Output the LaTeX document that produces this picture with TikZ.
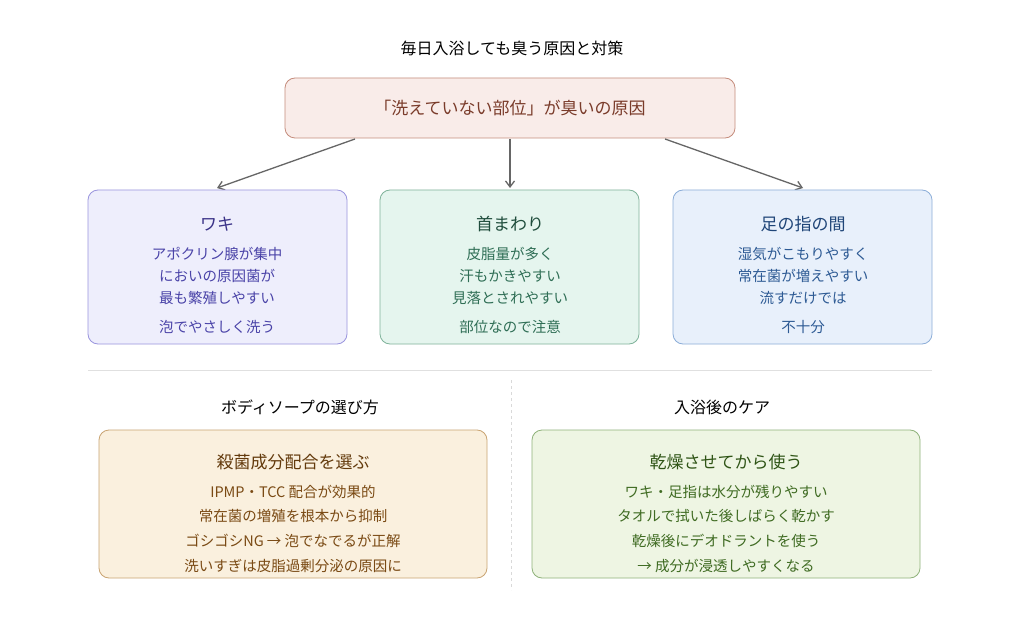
\documentclass[tikz,border=0pt]{standalone}
\usepackage{fontspec}
\setmainfont{Noto Sans CJK JP}
\usetikzlibrary{arrows.meta}
\definecolor{pkF}{HTML}{F9ECE9}\definecolor{pkD}{HTML}{C58C7C}\definecolor{pkT}{HTML}{7A3B2A}
\definecolor{puF}{HTML}{EEEEFC}\definecolor{puD}{HTML}{9A95DE}\definecolor{puT}{HTML}{4A43A8}\definecolor{puH}{HTML}{3C3489}
\definecolor{grF}{HTML}{E5F5EE}\definecolor{grD}{HTML}{7FB39A}\definecolor{grT}{HTML}{2F6E55}\definecolor{grH}{HTML}{1F4D3C}
\definecolor{blF}{HTML}{E8F0FB}\definecolor{blD}{HTML}{8BADD8}\definecolor{blT}{HTML}{2D5A94}\definecolor{blH}{HTML}{1F4578}
\definecolor{orF}{HTML}{FAF0DE}\definecolor{orD}{HTML}{C9A472}\definecolor{orT}{HTML}{7A4A14}\definecolor{orH}{HTML}{633A0C}
\definecolor{lgF}{HTML}{EEF5E3}\definecolor{lgD}{HTML}{8FB27A}\definecolor{lgT}{HTML}{3F6B22}\definecolor{lgH}{HTML}{2F5416}
\begin{document}
\begin{tikzpicture}[x=1pt,y=-1pt,
 box/.style={draw,rounded corners=10pt,line width=0.8pt},
 tx/.style={font=\fontsize{14.5}{16}\selectfont,anchor=center},
 hd/.style={font=\fontsize{17}{19}\selectfont,anchor=center},
 arr/.style={draw=black!60,line width=1.3pt,-{Straight Barb[length=6pt,width=9pt]}}]
\useasboundingbox[fill=white] (0,0) rectangle (1024,620);
\node[hd,font=\fontsize{16}{18}\selectfont] (title) at (512,48) {毎日入浴しても臭う原因と対策};
\draw[box,draw=pkD,fill=pkF] (285,78) rectangle (735,138);
\node[hd,text=pkT] (top) at (510,108) {「洗えていない部位」が臭いの原因};
\coordinate (tl) at (355,139);\coordinate (tm) at (510,139);\coordinate (tr) at (665,139);
\coordinate (al) at (217,188);\coordinate (am) at (510,188);\coordinate (ar) at (803,188);
\draw[arr] (tl)--(al);\draw[arr] (tm)--(am);\draw[arr] (tr)--(ar);
% three boxes
\draw[box,draw=puD,fill=puF] (88,190) rectangle (347,344);
\node[hd,text=puH] (h1) at (217,224) {ワキ};
\node[tx,text=puT] at (217,254) {アポクリン腺が集中};
\node[tx,text=puT] at (217,276) {においの原因菌が};
\node[tx,text=puT] at (217,298) {最も繁殖しやすい};
\node[tx,text=puT] at (217,327) {泡でやさしく洗う};
\draw[box,draw=grD,fill=grF] (380,190) rectangle (639,344);
\node[hd,text=grH] (h2) at (510,224) {首まわり};
\node[tx,text=grT] at (510,254) {皮脂量が多く};
\node[tx,text=grT] at (510,276) {汗もかきやすい};
\node[tx,text=grT] at (510,298) {見落とされやすい};
\node[tx,text=grT] at (510,327) {部位なので注意};
\draw[box,draw=blD,fill=blF] (673,190) rectangle (932,344);
\node[hd,text=blH] (h3) at (803,224) {足の指の間};
\node[tx,text=blT] at (803,254) {湿気がこもりやすく};
\node[tx,text=blT] at (803,276) {常在菌が増えやすい};
\node[tx,text=blT] at (803,298) {流すだけでは};
\node[tx,text=blT] at (803,327) {不十分};
% separators
\draw[black!12,line width=0.8pt] (88,370)--(932,370);
\draw[black!15,line width=0.8pt,dashed] (511,380)--(511,590);
\node[hd,font=\fontsize{16}{18}\selectfont] (s1) at (300,407) {ボディソープの選び方};
\node[hd,font=\fontsize{16}{18}\selectfont] (s2) at (722,407) {入浴後のケア};
\draw[box,draw=orD,fill=orF] (99,430) rectangle (487,578);
\node[hd,text=orH] (b1) at (293,462) {殺菌成分配合を選ぶ};
\node[tx,text=orT] at (293,492) {IPMP・TCC 配合が効果的};
\node[tx,text=orT] at (293,516) {常在菌の増殖を根本から抑制};
\node[tx,text=orT] at (293,541) {ゴシゴシNG → 泡でなでるが正解};
\node[tx,text=orT] at (293,566) {洗いすぎは皮脂過剰分泌の原因に};
\draw[box,draw=lgD,fill=lgF] (532,430) rectangle (920,578);
\node[hd,text=lgH] (b2) at (726,462) {乾燥させてから使う};
\node[tx,text=lgT] at (726,492) {ワキ・足指は水分が残りやすい};
\node[tx,text=lgT] at (726,516) {タオルで拭いた後しばらく乾かす};
\node[tx,text=lgT] at (726,541) {乾燥後にデオドラントを使う};
\node[tx,text=lgT] at (726,566) {→ 成分が浸透しやすくなる};
\end{tikzpicture}
\end{document}
